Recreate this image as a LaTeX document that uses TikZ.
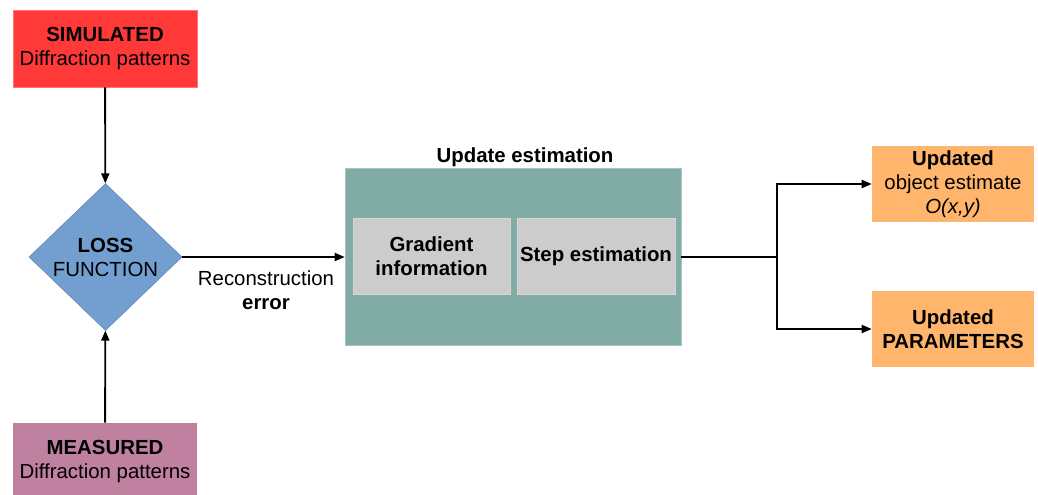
\documentclass[tikz,border=0pt]{standalone}
\usepackage{fontspec}
\setmainfont{Liberation Sans}
\usetikzlibrary{shapes.geometric,arrows.meta}

\definecolor{simred}{RGB}{255,56,56}
\definecolor{measpink}{RGB}{192,128,160}
\definecolor{lossblue}{RGB}{114,159,207}
\definecolor{updteal}{RGB}{129,172,166}
\definecolor{boxgrey}{RGB}{204,204,204}
\definecolor{outorange}{RGB}{255,182,108}

\tikzset{
  txt/.style={font=\fontsize{15.3}{18}\selectfont, align=center, inner sep=0pt},
  patbox/.style={txt, minimum width=138pt, minimum height=57.75pt},
  subbox/.style={txt, fill=boxgrey, draw=boxgrey!80!white, minimum height=57pt},
  outbox/.style={txt, fill=outorange, minimum width=121.5pt, minimum height=57pt},
  flow/.style={line width=1.4pt, -{Triangle[length=7.5pt,width=6pt]}}
}

\begin{document}
\begin{tikzpicture}[x=0.75pt,y=0.75pt,yscale=-1,xscale=1]
\useasboundingbox (0,0) rectangle (1038,494);

%Pattern boxes
\node [patbox, fill=simred, draw=simred!70!white] (sim) at (105,48.5) {\textbf{SIMULATED}\\Diffraction patterns};
\node [patbox, fill=measpink] (meas) at (105,461.5) {\textbf{MEASURED}\\Diffraction patterns};

%Loss function
\node [txt, diamond, fill=lossblue, draw=lossblue!85!black, minimum width=114.75pt, minimum height=110.25pt] (loss) at (105.5,257) {\textbf{LOSS}\\FUNCTION};

%Update estimation block
\node [txt, fill=updteal, draw=updteal!70!white, minimum width=252pt, minimum height=132.75pt] (upd) at (513,256.5) {};
\node [txt] (updlbl) at (525,157) {\textbf{Update estimation}};
\node [subbox, minimum width=117.75pt] (grad) at (431.5,256) {\textbf{Gradient}\\\textbf{information}};
\node [subbox, minimum width=118.5pt] (stp) at (596,256) {\textbf{Step estimation}};

%Outputs
\node [outbox] (obj) at (953,184) {\textbf{Updated}\\object estimate\\\textit{O(x,y)}};
\node [outbox] (par) at (953,329) {\textbf{Updated}\\\textbf{PARAMETERS}};

\node [txt] (err) at (266,290) {Reconstruction\\\textbf{error}};
\coordinate (split) at (777,257);

%Connectors
\draw [flow] (sim) -- (loss);
\draw [flow] (meas) -- (loss);
\draw [flow] (loss.east) -- (loss.east -| upd.west);
\draw [line width=1.4pt] (upd.east |- split) -- (split);
\draw [flow] (split) |- (obj.west);
\draw [flow] (split) |- (par.west);

\end{tikzpicture}
\end{document}
